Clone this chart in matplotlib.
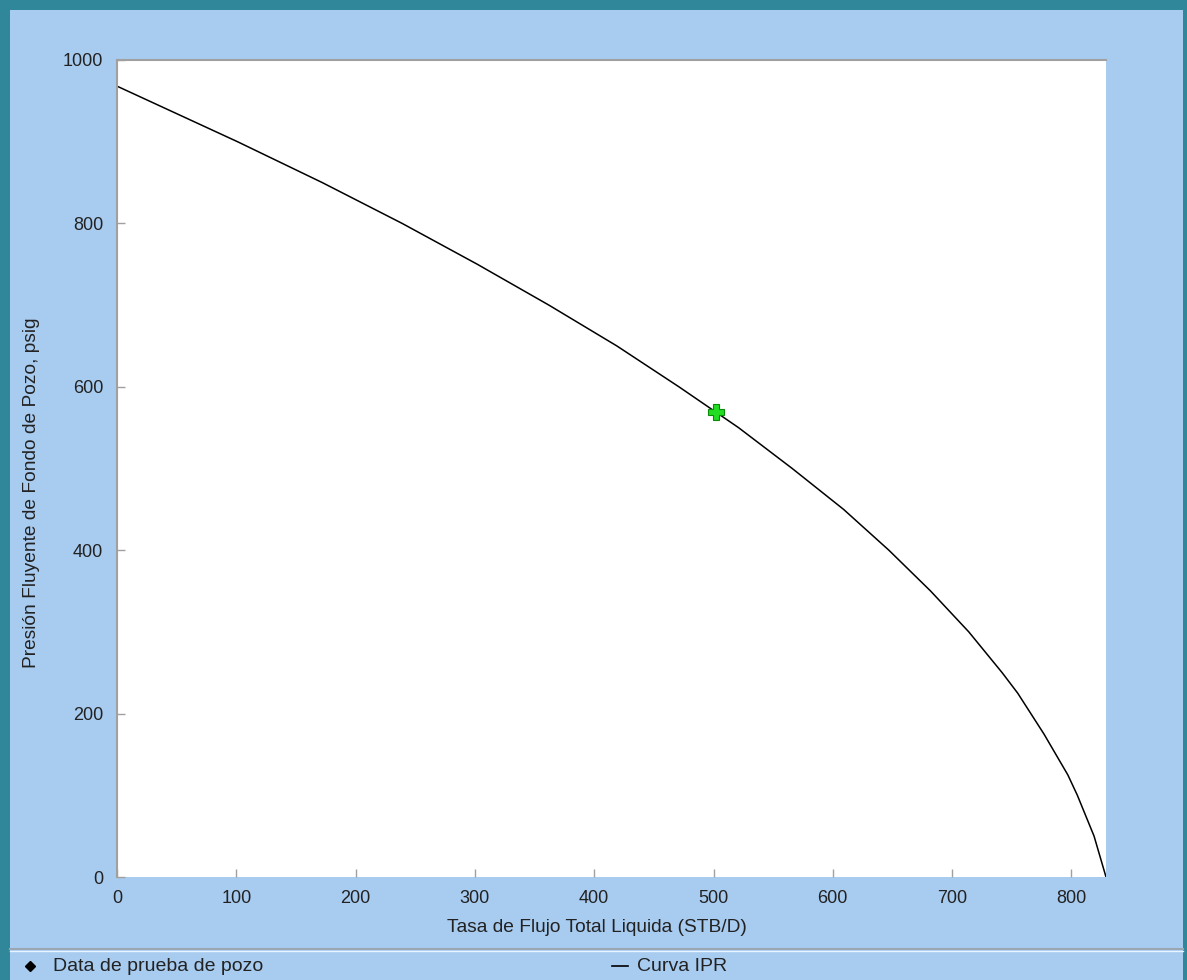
import matplotlib
matplotlib.use("Agg")
import matplotlib.pyplot as plt
from matplotlib.patches import Rectangle
from matplotlib.lines import Line2D

# IPR curve
pressure = [968, 900, 850, 800, 750, 700, 650, 600, 550, 500, 450, 400,
            350, 300, 275, 250, 225, 200, 175, 150, 125, 100, 75, 50, 25, 0]
rate = [0, 101, 172, 239, 302, 362, 419, 471, 521, 566, 609, 647,
        682, 714, 728, 742, 755, 766, 777, 787, 797, 805, 812, 819, 824, 829]

# Well test point
test_rate = [502]
test_pressure = [569]

x_ticks = [0, 100, 200, 300, 400, 500, 600, 700, 800]
y_ticks = [0, 200, 400, 600, 800, 1000]

plt.rcParams['font.family'] = ['Liberation Sans', 'DejaVu Sans']

W, H = 1187, 980
fig = plt.figure(figsize=(W / 100, H / 100), dpi=100)
fig.patch.set_facecolor('#2F8799')

# blue panel
fig.patches.append(Rectangle((10 / W, 0), (1183 - 10) / W, (H - 10) / H,
                             transform=fig.transFigure, facecolor='#A8CBF0',
                             edgecolor='none', zorder=-5))
# legend separator
fig.lines.append(Line2D([10 / W, 1183 / W], [(H - 949) / H] * 2,
                        transform=fig.transFigure, color='#9aa6b2', lw=1.5))
fig.lines.append(Line2D([10 / W, 1183 / W], [(H - 951) / H] * 2,
                        transform=fig.transFigure, color='#e8f4ff', lw=1))

ax = fig.add_axes([117 / W, (H - 877) / H, (1106 - 117) / W, (877 - 60) / H])
ax.set_zorder(5)
ax.set_facecolor('white')
ax.plot(rate, pressure, color='black', lw=1.1, zorder=2)
ax.plot(test_rate, test_pressure, marker='P', ls='none', markersize=11,
        markerfacecolor='#22dd22', markeredgecolor='#0a8a0a',
        markeredgewidth=0.8, zorder=3)

ax.set_xlim(0, 829)
ax.set_ylim(0, 1000)
ax.set_xticks(x_ticks)
ax.set_yticks(y_ticks)
ax.tick_params(direction='in', length=6, width=1, color='#a0a0a0',
               labelsize=13, labelcolor='#222222')
ax.tick_params(axis='x', pad=9)
ax.tick_params(axis='y', pad=10)
for s in ['bottom', 'right']:
    ax.spines[s].set_visible(False)
for s in ['left', 'top']:
    ax.spines[s].set_color('#a0a0a0')
    ax.spines[s].set_linewidth(1.5)

ax.set_xlabel('Tasa de Flujo Total Liquida (STB/D)', fontsize=13.8,
              color='#222222', va='center', ha='center')
ax.xaxis.set_label_coords((596.5 - 117) / 989, (877 - 927) / 817)
ax.set_ylabel('Presión Fluyente de Fondo de Pozo, psig', fontsize=13.8,
              color='#222222', va='center', ha='center')
ax.yaxis.set_label_coords((32 - 117) / 989, (877 - 493) / 817)

# legend row
ly = (H - 966) / H
fig.lines.append(Line2D([30 / W], [ly], transform=fig.transFigure, marker='D',
                        markersize=5.5, color='black', ls='none'))
fig.text(53 / W, ly, 'Data de prueba de pozo', fontsize=14, va='center',
         color='#222222')
fig.lines.append(Line2D([612 / W, 628 / W], [ly, ly], transform=fig.transFigure,
                        color='black', lw=1.2))
fig.text(637 / W, ly, 'Curva IPR', fontsize=14, va='center', color='#222222')

fig.savefig('out.png', dpi=100, facecolor=fig.get_facecolor())
